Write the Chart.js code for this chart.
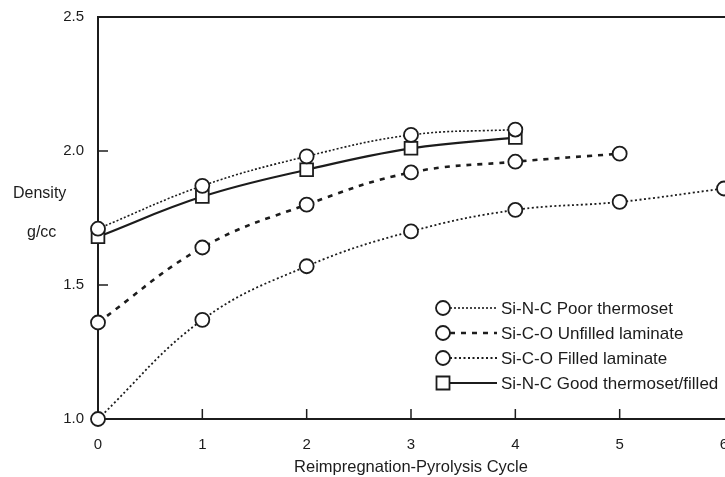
<!DOCTYPE html>
<html>
<head>
<meta charset="utf-8">
<script src="https://cdn.jsdelivr.net/npm/chart.js@4.4.1/dist/chart.umd.min.js"></script>
<style>
  html, body { margin: 0; padding: 0; background: #fff; overflow: hidden; width: 725px; height: 477px; }
  #wrap { width: 740px; height: 477px; }
</style>
</head>
<body>
<div id="wrap"><canvas id="c" width="740" height="477"></canvas></div>
<script>
// Density after each reimpregnation-pyrolysis cycle (g/cc)
const cycles = [0, 1, 2, 3, 4, 5, 6];
const poorThermoset    = [1.71, 1.87, 1.98, 2.06, 2.08];
const unfilledLaminate = [1.36, 1.64, 1.80, 1.92, 1.96, 1.99];
const filledLaminate   = [1.00, 1.37, 1.57, 1.70, 1.78, 1.81, 1.86];
const goodThermoset    = [1.68, 1.83, 1.93, 2.01, 2.05];
const seriesNames = [
  'Si-N-C Poor thermoset',
  'Si-C-O Unfilled laminate',
  'Si-C-O Filled laminate',
  'Si-N-C Good thermoset/filled'
];
const xTitle = 'Reimpregnation-Pyrolysis Cycle';
const yTitleLines = ['Density', 'g/cc'];

const INK = '#1c1c1c';
const FONT = '"Liberation Sans", Arial, Helvetica, sans-serif';

const toPoints = vals => vals.map((v, i) => ({ x: cycles[i], y: v }));

function series(label, vals, style) {
  return Object.assign({
    label,
    data: toPoints(vals),
    borderColor: INK,
    pointBorderColor: INK,
    pointBackgroundColor: '#fff',
    pointBorderWidth: 1.8,
    pointRadius: 7,
    pointHoverRadius: 7,
    tension: 0.4,
    fill: false,
    clip: false
  }, style);
}

const datasets = [
  series(seriesNames[0], poorThermoset,    { borderWidth: 1.6, borderDash: [2, 2], pointStyle: 'circle' }),
  series(seriesNames[1], unfilledLaminate, { borderWidth: 2.6, borderDash: [5, 6], pointStyle: 'circle' }),
  series(seriesNames[2], filledLaminate,   { borderWidth: 1.8, borderDash: [2, 2.5], pointStyle: 'circle' }),
  series(seriesNames[3], goodThermoset,    { borderWidth: 2.2, borderDash: [], pointStyle: 'rect', pointRadius: 9, pointHoverRadius: 9 })
];

// Frame, inward tick marks, horizontal y title and the in-plot key
const decor = {
  id: 'decor',
  afterDraw(chart) {
    const { ctx, chartArea: a, scales: { x, y } } = chart;
    ctx.save();
    ctx.strokeStyle = INK;
    ctx.fillStyle = INK;

    ctx.lineWidth = 2;
    ctx.setLineDash([]);
    ctx.beginPath();
    ctx.moveTo(a.left - 1, a.top);
    ctx.lineTo(chart.width, a.top);
    ctx.stroke();

    ctx.lineWidth = 1.5;
    x.ticks.forEach(t => {
      if (t.value > x.min && t.value < x.max) {
        const px = x.getPixelForValue(t.value);
        ctx.beginPath(); ctx.moveTo(px, a.bottom); ctx.lineTo(px, a.bottom - 10); ctx.stroke();
      }
    });
    y.ticks.forEach(t => {
      if (t.value > y.min && t.value < y.max) {
        const py = y.getPixelForValue(t.value);
        ctx.beginPath(); ctx.moveTo(a.left, py); ctx.lineTo(a.left + 10, py); ctx.stroke();
      }
    });

    ctx.font = '16px ' + FONT;
    ctx.textAlign = 'left';
    ctx.textBaseline = 'middle';
    ctx.fillText(yTitleLines[0], 13, 194);
    ctx.fillText(yTitleLines[1], 27, 233);

    // key
    const rowY = [308, 333, 358, 383];
    const mx = 443, lx0 = 450, lx1 = 497, tx = 501;
    chart.data.datasets.forEach((ds, i) => {
      const yy = rowY[i];
      ctx.setLineDash(ds.borderDash || []);
      ctx.lineWidth = ds.borderWidth;
      ctx.beginPath(); ctx.moveTo(lx0, yy); ctx.lineTo(lx1, yy); ctx.stroke();
      ctx.setLineDash([]);
      ctx.lineWidth = 1.8;
      ctx.fillStyle = '#fff';
      ctx.beginPath();
      if (ds.pointStyle === 'rect') {
        ctx.rect(mx - 6.5, yy - 6.5, 13, 13);
      } else {
        ctx.arc(mx, yy, 7, 0, Math.PI * 2);
      }
      ctx.fill(); ctx.stroke();
      ctx.fillStyle = INK;
      ctx.font = '17px ' + FONT;
      ctx.fillText(ds.label, tx, yy + 1);
    });
    ctx.restore();
  }
};

new Chart(document.getElementById('c'), {
  type: 'line',
  data: { datasets },
  options: {
    responsive: false,
    animation: false,
    events: [],
    layout: { padding: { top: 17, right: 16, bottom: 0, left: 0 } },
    plugins: { legend: { display: false }, tooltip: { enabled: false } },
    scales: {
      x: {
        type: 'linear',
        min: 0, max: 6,
        grid: { display: false },
        border: { display: true, color: INK, width: 2 },
        ticks: { stepSize: 1, padding: 9, color: INK, font: { family: FONT, size: 15 } },
        title: { display: true, text: xTitle, color: INK, font: { family: FONT, size: 16.5 }, padding: { top: 0, bottom: 0 } },
        afterFit(scale) { scale.height = 58; }
      },
      y: {
        type: 'linear',
        min: 1.0, max: 2.5,
        grid: { display: false },
        border: { display: true, color: INK, width: 2 },
        ticks: {
          stepSize: 0.5, padding: 6, color: INK, font: { family: FONT, size: 15 },
          callback: v => Number(v).toFixed(1)
        },
        afterFit(scale) { scale.width = 98; }
      }
    }
  },
  plugins: [decor]
});
</script>
</body>
</html>
